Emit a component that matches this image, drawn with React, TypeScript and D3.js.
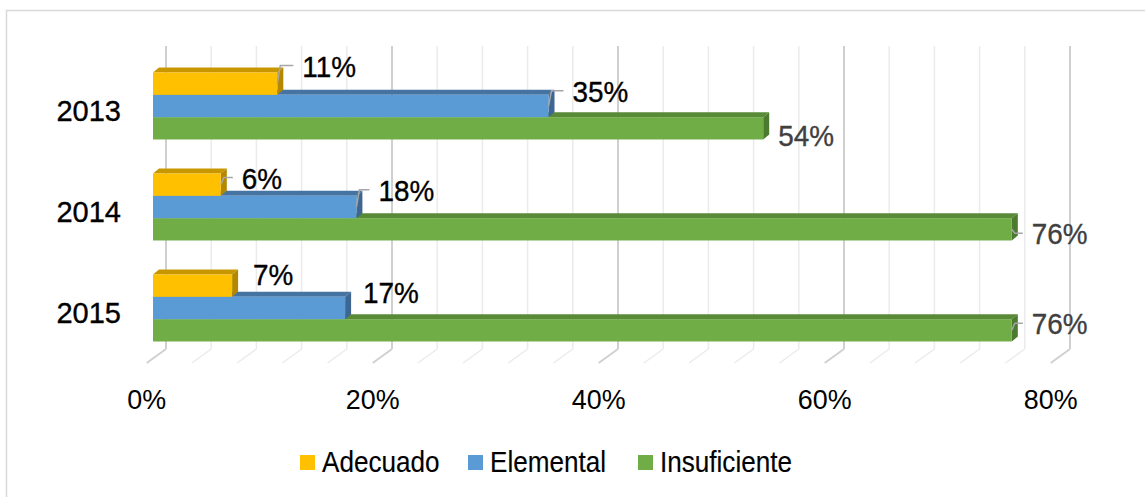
import React from 'react';
import * as d3 from 'd3';

const years = ['2013', '2014', '2015'];
const seriesNames = ['Adecuado', 'Elemental', 'Insuficiente'];
const adecuado = [0.11, 0.06, 0.07];
const elemental = [0.35, 0.18, 0.17];
const insuficiente = [0.54, 0.76, 0.76];
const xTickLabels = [0, 0.2, 0.4, 0.6, 0.8];

// Excel labels were dragged by hand: [dx, dy, leader] per year and series
const labelNudge = [
  [[25, -7, 1], [24, -4, 1], [15, 18, 0]],
  [[21, 4, 1], [22, -6, 1], [20, 15, 1]],
  [[21, -1, 0], [18, -5, 0], [20, 4, 1]],
];

const faces = [
  { front: '#FFC000', top: '#C89700', side: '#B38700', label: '#000000' },
  { front: '#5B9BD5', top: '#4674A2', side: '#3D6792', label: '#000000' },
  { front: '#70AD47', top: '#588A37', side: '#4C7A2F', label: '#404040' },
];

const W = 1145;
const H = 497;
const FONT = '"Liberation Sans", Arial, sans-serif';

// narrowed text, closer to the Franklin Gothic look of the original
const T = ({ x, y, size, sx = 1, anchor = 'start', fill = '#000000', weight = 0.35, children }) => (
  <text
    transform={`translate(${x},${y}) scale(${sx},1)`}
    fontSize={size}
    fontFamily={FONT}
    textAnchor={anchor}
    fill={fill}
    stroke={weight ? fill : 'none'}
    strokeWidth={weight}
  >
    {children}
  </text>
);

const App = () => {
  const values = [adecuado, elemental, insuficiente];

  // front plane of the 3D box
  const x = d3.scaleLinear().domain([0, 0.8]).range([146.7, 1050.7]);
  const y = d3.scaleBand().domain(years).range([60, 363]).paddingInner(0.337).paddingOuter(0.1685);
  const ySeries = d3.scaleBand().domain(seriesNames).range([0, y.bandwidth()]);

  const floorY = 363;
  const backDx = 19.3;
  const backDy = -14;
  const wallTop = 46;
  // bars sit in the middle of the depth
  const barDx = 6.3;
  const barDy = -4.5;
  const depthDx = 6;
  const depthDy = -5;

  const grid = d3.range(0, 21).map((i) => i * 0.04);
  const pct = d3.format('.0%');

  const bars = [];
  const labels = [];
  years.forEach((yr, yi) => {
    // draw lowest series first so the upper one covers its top face
    for (let si = seriesNames.length - 1; si >= 0; si--) {
      const v = values[si][yi];
      const x0 = x(0) + barDx;
      const x1 = x(v) + barDx;
      const top = (y(yr) as number) + (ySeries(seriesNames[si]) as number) + barDy;
      const bot = top + ySeries.bandwidth();
      const f = faces[si];
      bars.push(
        <g key={`${yr}-${si}`}>
          <polygon
            points={`${x0},${top} ${x1},${top} ${x1 + depthDx},${top + depthDy} ${x0 + depthDx},${top + depthDy}`}
            fill={f.top}
          />
          <polygon
            points={`${x1},${top} ${x1 + depthDx},${top + depthDy} ${x1 + depthDx},${bot + depthDy} ${x1},${bot}`}
            fill={f.side}
          />
          <rect x={x0} y={top} width={x1 - x0} height={bot - top} fill={f.front} />
        </g>
      );
      const [ndx, ndy, leader] = labelNudge[yi][si];
      const lx = x1 + ndx;
      const ly = top + ndy;
      const mid = (top + bot) / 2;
      labels.push(
        <g key={`l-${yr}-${si}`}>
          {leader ? (
            <polyline
              points={`${x1},${mid} ${x1 + 3},${ly} ${lx - 9},${ly}`}
              fill="none"
              stroke="#A6A6A6"
              strokeWidth={1.5}
            />
          ) : null}
          <T x={lx} y={ly + 11} size={30} sx={0.93} fill={f.label}>
            {pct(v)}
          </T>
        </g>
      );
    }
  });

  const legendX = [300, 468, 638];

  return (
    <svg width={W} height={H} style={{ position: 'absolute', left: 0, top: 0 }}>
      <rect x={0} y={0} width={W} height={H} fill="#ffffff" />
      <rect x={6.5} y={10.5} width={W + 20} height={H + 20} fill="#ffffff" stroke="#D9D9D9" strokeWidth={1.5} />

      {grid.map((g, i) => {
        const major = i % 5 === 0;
        const gx = x(g);
        return (
          <g key={`g-${i}`} stroke={major ? '#D0D0D0' : '#EBEBEB'} strokeWidth={major ? 2 : 1.5}>
            <line x1={gx + backDx} x2={gx + backDx} y1={wallTop} y2={floorY + backDy} />
            <line x1={gx} x2={gx + backDx} y1={floorY} y2={floorY + backDy} />
          </g>
        );
      })}

      {bars}
      {labels}

      {years.map((yr) => (
        <T key={`c-${yr}`} x={121} y={(y(yr) as number) + y.bandwidth() / 2 + 10.5} size={29} anchor="end">
          {yr}
        </T>
      ))}

      {xTickLabels.map((t) => (
        <T key={`t-${t}`} x={x(t)} y={409} size={28} sx={0.96} anchor="middle" weight={0}>
          {pct(t)}
        </T>
      ))}

      {seriesNames.map((s, i) => (
        <g key={`leg-${s}`}>
          <rect x={legendX[i]} y={455} width={15} height={15} fill={faces[i].front} />
          <T x={legendX[i] + 22} y={472} size={29} sx={0.9} weight={0.15}>
            {s}
          </T>
        </g>
      ))}
    </svg>
  );
};

export default App;
